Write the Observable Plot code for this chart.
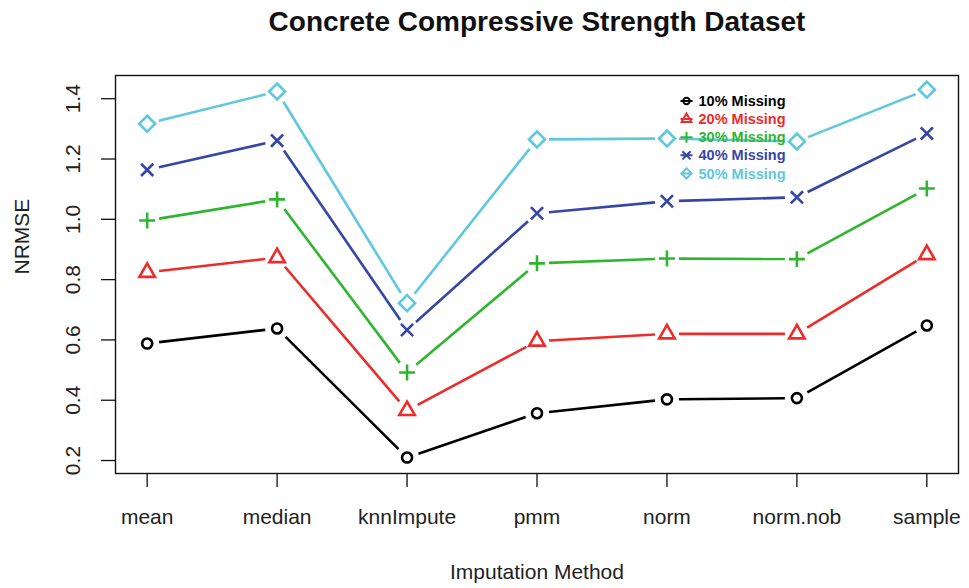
<!DOCTYPE html>
<html><head><meta charset="utf-8">
<script src="https://cdn.jsdelivr.net/npm/d3@7"></script>
<script src="https://cdn.jsdelivr.net/npm/@observablehq/plot@0.6"></script>
<style>body{margin:0;background:#fff;}</style>
</head><body><div id="chart"></div>
<script>
const methods = ["mean", "median", "knnImpute", "pmm", "norm", "norm.nob", "sample"];
const seriesNames = ["10% Missing", "20% Missing", "30% Missing", "40% Missing", "50% Missing"];
const missing10 = [0.588, 0.638, 0.210, 0.357, 0.403, 0.407, 0.648];
const missing20 = [0.824, 0.873, 0.366, 0.596, 0.620, 0.620, 0.883];
const missing30 = [0.996, 1.066, 0.492, 0.854, 0.870, 0.868, 1.102];
const missing40 = [1.164, 1.261, 0.633, 1.020, 1.060, 1.073, 1.285];
const missing50 = [1.317, 1.424, 0.722, 1.265, 1.268, 1.258, 1.430];
const yTicks = [0.2, 0.4, 0.6, 0.8, 1.0, 1.2, 1.4];
const title = "Concrete Compressive Strength Dataset";
const xTitle = "Imputation Method";
const yTitle = "NRMSE";

// styles
const colors = ["#000000", "#ee2b2b", "#2fb52f", "#3646a6", "#5ec8dc"];
const d3Symbols = [d3.symbolCircle, d3.symbolTriangle2, d3.symbolPlus, d3.symbolTimes, d3.symbolDiamond2];
const markerR = [5, 7.4, 5.2, 5.6, 7.2];
const legendR = [3.2, 4.6, 3.6, 3.8, 4.6];

const seriesValues = [missing10, missing20, missing30, missing40, missing50];
const W = 969, H = 588;
const M = {left: 115, right: 11, top: 75, bottom: 115};
const xDomain = [-0.2437, methods.length - 1 + 0.2437];
const yDomain = [0.157, 1.477];

const sx = Plot.scale({x: {type: "linear", domain: xDomain, range: [M.left, W - M.right]}});
const sy = Plot.scale({y: {type: "linear", domain: yDomain, range: [H - M.bottom, M.top]}});
const gap = 12;

const rows = seriesNames.flatMap((s, si) => methods.map((m, i) => ({series: s, si, i, method: m, value: seriesValues[si][i]})));

// shortened segments (R type "b")
const segments = [];
seriesNames.forEach((s, si) => {
  const v = seriesValues[si];
  for (let i = 0; i < v.length - 1; i++) {
    const x1 = sx.apply(i), y1 = sy.apply(v[i]);
    const x2 = sx.apply(i + 1), y2 = sy.apply(v[i + 1]);
    const dx = x2 - x1, dy = y2 - y1, L = Math.hypot(dx, dy);
    if (L <= 2 * gap) continue;
    const ux = dx / L, uy = dy / L;
    segments.push({
      series: s,
      x1: sx.invert(x1 + ux * gap), y1: sy.invert(y1 + uy * gap),
      x2: sx.invert(x2 - ux * gap), y2: sy.invert(y2 - uy * gap)
    });
  }
});

function legendSymbol(base, half) {
  return {draw(ctx, size) { base.draw(ctx, size); ctx.moveTo(-half, 0); ctx.lineTo(half, 0); }};
}

const txt = {fill: "#222", lineAnchor: "middle"};
const marks = [];
marks.push(Plot.frame({stroke: "#111", strokeWidth: 1.4}));
marks.push(Plot.axisY(yTicks, {tickSize: 14, tickFormat: () => "", label: null, stroke: "#111", strokeWidth: 1.3}));
marks.push(Plot.axisX(d3.range(methods.length), {tickSize: 14, tickFormat: () => "", label: null, stroke: "#111", strokeWidth: 1.3}));
marks.push(Plot.text(yTicks, {...txt, y: d => d, text: d => d.toFixed(1), frameAnchor: "left", dx: -42, rotate: -90, textAnchor: "middle", fontSize: 21}));
marks.push(Plot.text(methods, {...txt, x: (d, i) => i, text: d => d, frameAnchor: "bottom", dy: 44, fontSize: 21}));
marks.push(Plot.text([xTitle], {...txt, frameAnchor: "bottom", dy: 99, fontSize: 21}));
marks.push(Plot.text([yTitle], {...txt, frameAnchor: "left", dx: -93, rotate: -90, fontSize: 21}));
marks.push(Plot.text([title], {...txt, frameAnchor: "top", dy: -53, fontSize: 28, fontWeight: "bold", fill: "#111"}));

marks.push(Plot.link(segments, {x1: "x1", y1: "y1", x2: "x2", y2: "y2", stroke: "series", strokeWidth: 2.6}));
seriesNames.forEach((s, si) => {
  marks.push(Plot.dot(rows.filter(r => r.si === si), {x: "i", y: "value", stroke: "series", symbol: () => d3Symbols[si], r: markerR[si], strokeWidth: 2.6, fill: "none"}));
});
// legend
seriesNames.forEach((s, si) => {
  marks.push(Plot.dot([s], {frameAnchor: "top-left", dx: 571, dy: 25.5 + si * 18.1, stroke: colors[si], symbol: () => legendSymbol(d3Symbols[si], 6), r: legendR[si], strokeWidth: 2, fill: "none"}));
  marks.push(Plot.text([s], {frameAnchor: "top-left", lineAnchor: "middle", dx: 583, dy: 26 + si * 18.1, text: d => d, fill: colors[si], fontSize: 14.5, fontWeight: "bold", textAnchor: "start"}));
});

const chart = Plot.plot({
  width: W, height: H,
  marginLeft: M.left, marginRight: M.right, marginTop: M.top, marginBottom: M.bottom,
  x: {type: "linear", domain: xDomain, axis: null},
  y: {type: "linear", domain: yDomain, axis: null},
  color: {domain: seriesNames, range: colors},
  symbol: {type: "identity"},
  style: {fontFamily: "'Liberation Sans', Arial, sans-serif", background: "#fff", overflow: "visible"},
  marks
});
document.getElementById("chart").appendChild(chart);
</script>
</body></html>
